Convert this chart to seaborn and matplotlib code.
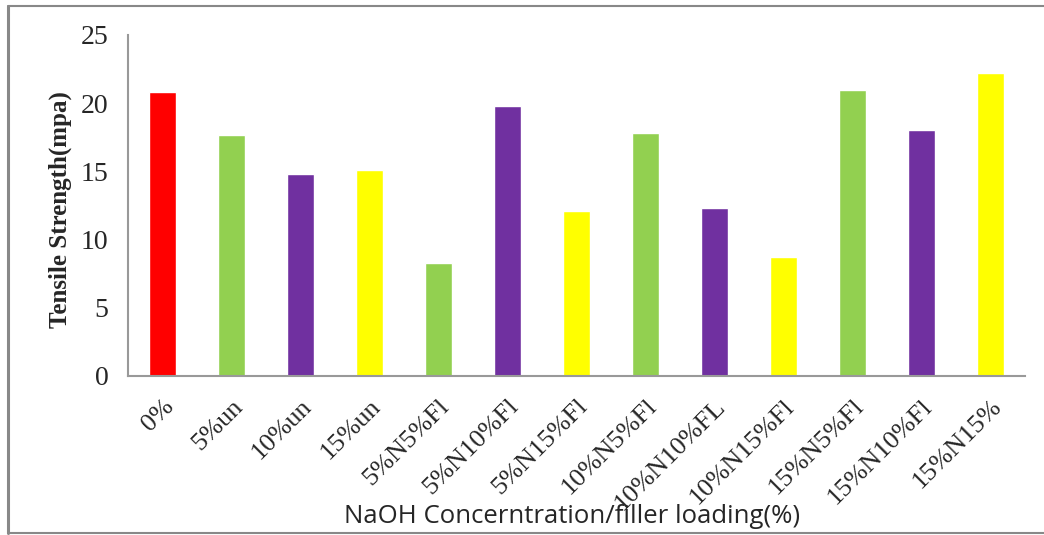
import matplotlib
matplotlib.use("Agg")
import matplotlib.pyplot as plt
import seaborn as sns
import pandas as pd
from matplotlib.lines import Line2D

categories = ["0%", "5%un", "10%un", "15%un", "5%N5%Fl", "5%N10%Fl", "5%N15%Fl",
              "10%N5%Fl", "10%N10%FL", "10%N15%Fl", "15%N5%Fl", "15%N10%Fl", "15%N15%"]
values = [20.8, 17.7, 14.8, 15.1, 8.3, 19.8, 12.1, 17.8, 12.3, 8.7, 21.0, 18.0, 22.2]
bar_colors = ["#FF0000", "#92D050", "#7030A0", "#FFFF00", "#92D050", "#7030A0", "#FFFF00",
              "#92D050", "#7030A0", "#FFFF00", "#92D050", "#7030A0", "#FFFF00"]
y_ticks = [0, 5, 10, 15, 20, 25]

sns.set_style("white")
df = pd.DataFrame({"cat": categories, "val": values})

fig = plt.figure(figsize=(10.44, 5.35), dpi=100)
ax = fig.add_axes([0.1226, 0.2972, 0.8592, 0.6374])
sns.barplot(data=df, x="cat", y="val", hue="cat", palette=bar_colors, width=0.4,
            legend=False, ax=ax, saturation=1)

ax.set_ylim(0, 25)
ax.set_xlim(-0.5, len(categories) - 0.5)
ax.set_yticks(y_ticks)
ax.set_yticklabels([str(t) for t in y_ticks], fontsize=20, family="Liberation Serif")
ax.set_xticks([i - 0.5 for i in range(len(categories) + 1)], minor=False)
ax.set_xticklabels([])
ax.set_xticks(range(len(categories)), minor=True)
ax.set_xticklabels(categories, minor=True, rotation=45, ha="right", va="top",
                   rotation_mode="anchor", fontsize=19, family="Liberation Serif")
ax.tick_params(axis="x", which="major", length=6, width=1.2, color="#888888", direction="out")
ax.tick_params(axis="x", which="minor", length=0, pad=14)
ax.tick_params(axis="y", which="major", length=6, width=1.2, color="#888888", direction="out", pad=8)

for s in ["top", "right"]:
    ax.spines[s].set_visible(False)
for s in ["left", "bottom"]:
    ax.spines[s].set_color("#999999")
    ax.spines[s].set_linewidth(1.5)

ax.set_ylabel("Tensile Strength(mpa)", fontsize=18, fontweight="bold",
              family="Liberation Serif", va="center")
ax.yaxis.set_label_coords(-0.076, 0.487)
ax.set_xlabel("")
fig.text(0.548, 0.012, "NaOH Concerntration/filler loading(%)", ha="center", va="bottom",
         fontsize=18.5, family="Open Sans")

# figure frame
fc = "#888888"
fig.add_artist(Line2D([7.5 / 1044, 7.5 / 1044], [1 - 533 / 535, 1 - 6 / 535], color=fc, lw=2.2, transform=fig.transFigure))
fig.add_artist(Line2D([7.5 / 1044, 1], [1 - 6 / 535, 1 - 6 / 535], color=fc, lw=1.5, transform=fig.transFigure))
fig.add_artist(Line2D([7.5 / 1044, 1], [1 - 533 / 535, 1 - 533 / 535], color=fc, lw=1.5, transform=fig.transFigure))

fig.savefig("out.png", dpi=100)
